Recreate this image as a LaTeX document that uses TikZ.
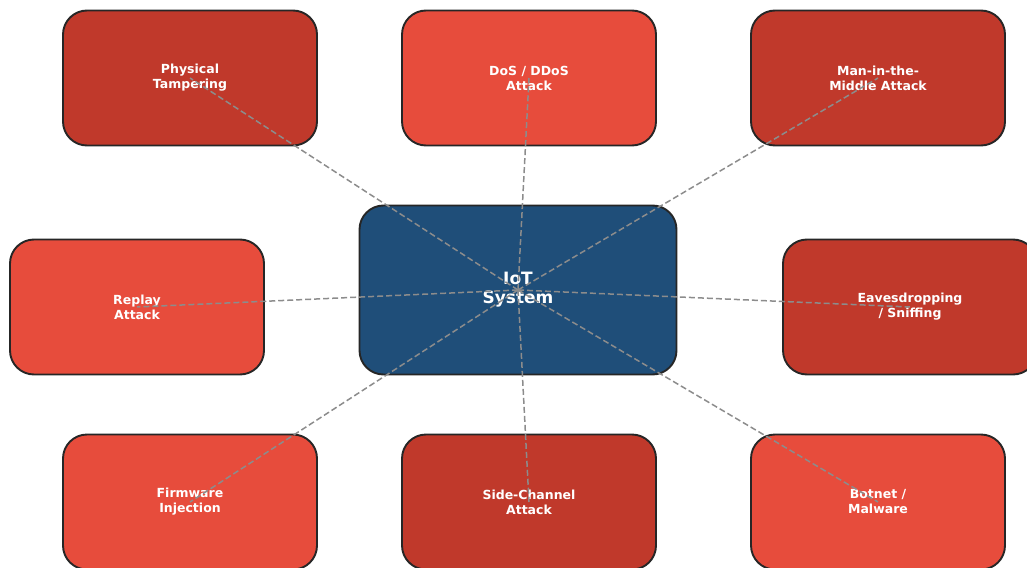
\documentclass[tikz,border=0pt]{standalone}
\usepackage{fontspec}
\setmainfont{DejaVu Sans}
\usetikzlibrary{positioning}
\definecolor{darkred}{HTML}{C0392B}
\definecolor{lightred}{HTML}{E74C3C}
\definecolor{iotblue}{HTML}{1F4E79}
\definecolor{linkgray}{HTML}{8C8C8C}

\begin{document}
\begin{tikzpicture}[x=1pt, y=-1pt,
        box/.style = {rectangle, rounded corners=24pt, draw=black!85,
                     line width=1.9pt, fill=#1, text=white, align=center,
                     font=\bfseries\fontsize{12.5}{15}\selectfont,
                     minimum width=254pt, minimum height=135pt},
       link/.style = {draw=linkgray, line width=1.5pt,
                     dash pattern=on 6pt off 3pt}
                        ]
\useasboundingbox (0,0) rectangle (1027,567);
% centre
\node (iot) [box=iotblue, minimum width=317pt, minimum height=169pt,
             font=\bfseries\fontsize{17}{19}\selectfont] at (518,290) {IoT\\System};
% attacks
\node (phys)  [box=darkred]  at (190,78)  {Physical\\Tampering};
\node (dos)   [box=lightred] at (529,78)  {DoS / DDoS\\Attack};
\node (mitm)  [box=darkred]  at (878,78)  {Man-in-the-\\Middle Attack};
\node (replay)[box=lightred] at (137,307) {Replay\\Attack};
\node (eaves) [box=darkred]  at (910,307) {Eavesdropping\\/ Sniffing};
\node (firm)  [box=lightred] at (190,502) {Firmware\\Injection};
\node (side)  [box=darkred]  at (529,502) {Side-Channel\\Attack};
\node (bot)   [box=lightred] at (878,502) {Botnet /\\Malware};
% links
\foreach \n in {phys,dos,mitm,replay,eaves,firm,side,bot}
  \draw[link] (iot.center) -- (\n.center);
\end{tikzpicture}
\end{document}
